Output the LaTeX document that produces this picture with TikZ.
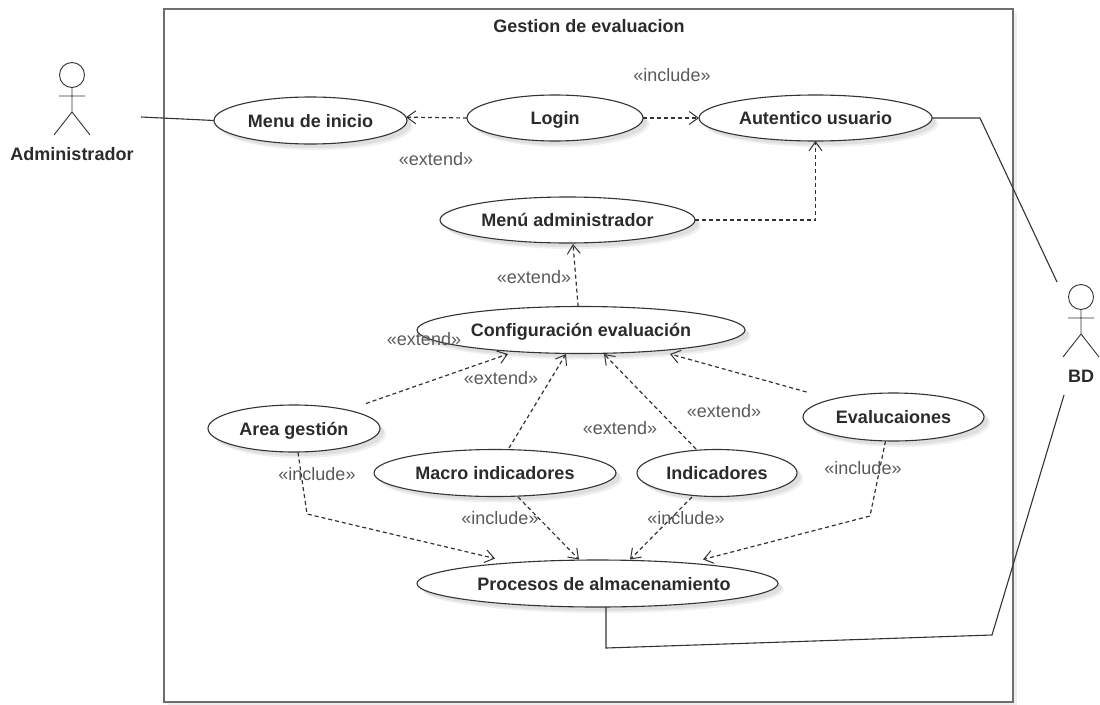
\documentclass[tikz,border=0pt]{standalone}
\usepackage{fontspec}
\setmainfont{Liberation Sans}
\usetikzlibrary{arrows.meta,calc,shadows,shapes.geometric}
\definecolor{frameC}{HTML}{6E6E6E}
\definecolor{lineC}{HTML}{333333}
\definecolor{txtC}{HTML}{2B2B2B}
\definecolor{lblC}{HTML}{5A5A5A}
\tikzset{
  softshadow/.style={
    drop shadow={shadow xshift=6pt,shadow yshift=-6pt,fill=black,opacity=.06},
    drop shadow={shadow xshift=4pt,shadow yshift=-4pt,fill=black,opacity=.07}},
  usecase/.style={ellipse,draw=lineC,line width=1.1pt,fill=white,inner sep=0pt,outer sep=0pt,
    text=txtC,font=\fontsize{18}{20}\selectfont\bfseries,softshadow,text height=15pt,text depth=2pt},
  lbl/.style={text=lblC,font=\fontsize{18}{20}\selectfont,inner sep=0pt,text height=15pt,text depth=2pt},
  actortxt/.style={text=txtC,font=\fontsize{18}{20}\selectfont\bfseries,inner sep=0pt,text height=15pt,text depth=2pt},
  dep/.style={draw=lineC,line width=1.2pt,dash pattern=on 4pt off 3pt,
    -{Straight Barb[length=9pt,width=13pt,line width=1pt]}},
  assoc/.style={draw=lineC,line width=1.1pt},
  limb/.style={draw=lineC,line width=.9pt},
  head/.style={circle,draw=lineC,line width=.9pt,minimum size=25pt,inner sep=0pt,outer sep=0pt},
  pics/stick/.style={code={
    \draw[limb] (0,13) -- (0,37) (-13,21) -- (13,21) (-18,60) -- (0,37) -- (18,60);
  }}
}
\begin{document}
\begin{tikzpicture}[x=1pt,y=-1pt]
\path[use as bounding box,fill=white] (0,0) rectangle (1100,704);
\node[draw=frameC,line width=1.8pt,fill=white,minimum width=849pt,minimum height=693pt,inner sep=0pt,
  drop shadow={shadow xshift=4pt,shadow yshift=-4pt,fill=black,opacity=.07}] (frame) at (588.5,355.5) {};
\node[actortxt,text=txtC] (title) at (589,26) {Gestion de evaluacion};

% actors
\node[head] (adminhead) at (72,75) {};
\pic at (72,75) {stick};
\node[actortxt] (adminlabel) at (72,154) {Administrador};
\node[head] (bdhead) at (1081,297) {};
\pic at (1081,297) {stick};
\node[actortxt] (bdlabel) at (1081,376) {BD};

% use cases
\node[usecase,minimum width=193pt,minimum height=47pt] (menu) at (310.5,120.5) {Menu de inicio};
\node[usecase,minimum width=176pt,minimum height=46pt] (login) at (555,118) {Login};
\node[usecase,minimum width=233pt,minimum height=46pt] (auth) at (815.5,118) {Autentico usuario};
\node[usecase,minimum width=255pt,minimum height=46pt] (madmin) at (567.5,220) {Menú administrador};
\node[usecase,minimum width=328pt,minimum height=47pt] (cfg) at (581,330) {Configuración evaluación};
\node[usecase,minimum width=172pt,minimum height=47pt] (area) at (294,428.5) {Area gestión};
\node[usecase,minimum width=242pt,minimum height=47pt] (macro) at (495,473) {Macro indicadores};
\node[usecase,minimum width=160pt,minimum height=47pt] (ind) at (717,473) {Indicadores};
\node[usecase,minimum width=181pt,minimum height=48pt] (eval) at (893.5,417) {Evalucaiones};
\node[usecase,minimum width=361pt,minimum height=47pt] (proc) at (597.5,583.5) {\makebox[0pt]{\hspace*{13pt}Procesos de almacenamiento}};

% free ends of the associations
\coordinate (adminend) at (141,117);
\coordinate (bdtop) at (1057,282);
\coordinate (bdlow) at (1064,395);

% associations
\draw[assoc] (adminend) -- (menu.west);
\draw[assoc] (auth.east) -- ($(auth.east)+(48,0)$) -- (bdtop);
\draw[assoc] (bdlow) -- (992,635) -- (606,648) -- ($(proc.south)+(8.5,0)$);

% dependencies
\draw[dep] (login.west) -- (menu.2);
\draw[dep] (login.east) -- (auth.west);
\draw[dep] (madmin.east) -| (auth.south);
\draw[dep] (cfg.97) -- ($(madmin.south)+(5.5,1)$);
\draw[dep] ($(area)+(72,-25)$) -- ($(cfg)+(-73,24)$);
\draw[dep] ($(macro)+(14,-25)$) -- ($(cfg)+(-15,24)$);
\draw[dep] ($(ind)+(-21,-24)$) -- ($(cfg)+(23,24)$);
\draw[dep] ($(eval)+(-87,-25)$) -- ($(cfg)+(89,24)$);
\draw[dep] ($(area)+(4,24)$) -- (307,514) -- ($(proc)+(-102.5,-25)$);
\draw[dep] ($(macro)+(23,24)$) -- ($(proc)+(-18.5,-24)$);
\draw[dep] ($(ind)+(-25,24)$) -- ($(proc)+(32.5,-24)$);
\draw[dep] ($(eval)+(-8,24)$) -- (870,516) -- ($(proc)+(105.5,-24)$);

% stereotypes
\node[lbl] (l1) at (672,75) {«include»};
\node[lbl] (l2) at (436,159) {«extend»};
\node[lbl] (l3) at (534,277) {«extend»};
\node[lbl] (l4) at (424,339) {«extend»};
\node[lbl] (l5) at (501,378) {«extend»};
\node[lbl] (l6) at (620,428) {«extend»};
\node[lbl] (l7) at (724,411) {«extend»};
\node[lbl] (l8) at (317,474) {«include»};
\node[lbl] (l9) at (500,518) {«include»};
\node[lbl] (l10) at (686,518) {«include»};
\node[lbl] (l11) at (863,468) {«include»};
\end{tikzpicture}
\end{document}
